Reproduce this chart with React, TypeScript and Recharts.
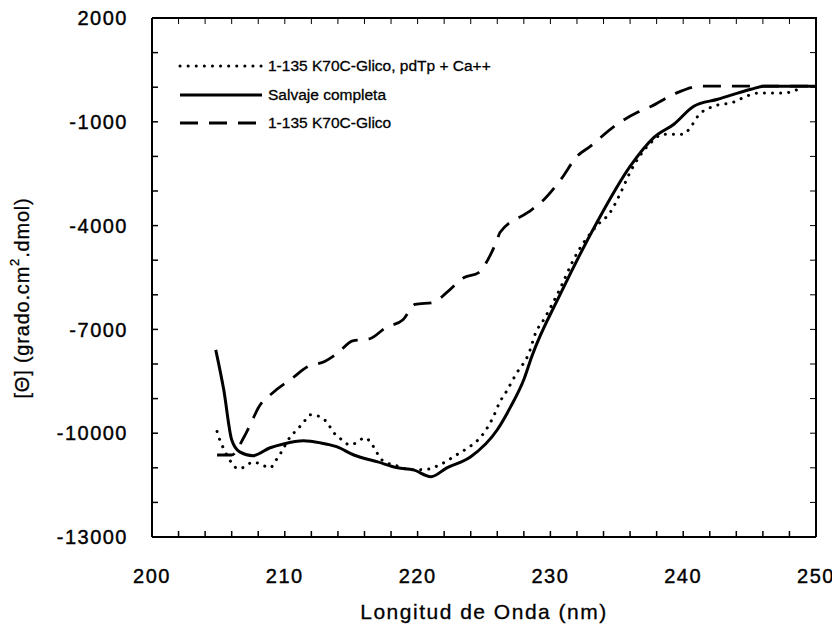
import React from 'react';
import { LineChart, Line, XAxis, YAxis, Legend, CartesianGrid } from 'recharts';

// longitudes de onda (nm) y elipticidad
const wlCa = [204.9, 205.1, 205.4, 206.0, 206.5, 207.0, 207.6, 208.3, 208.9, 209.3, 209.7, 210.4, 211.0, 211.5, 211.9, 212.7, 213.2, 213.7, 214.3, 214.9, 215.5, 216.0, 216.5, 216.9, 217.3, 218.5, 219.5, 221.0, 221.5, 222.1, 222.7, 223.8, 224.4, 225.0, 225.7, 226.2, 226.6, 227.4, 228.4, 228.9, 229.5, 230.5, 232.0, 233.5, 234.5, 235.3, 236.0, 237.6, 238.5, 240.0, 240.6, 241.1, 242.3, 243.8, 244.6, 245.6, 247.6, 248.3, 249.0];
const thetaCa = [-9950, -10190, -10450, -10860, -11030, -10970, -10830, -10920, -11000, -10800, -10570, -10110, -9870, -9640, -9470, -9530, -9700, -9990, -10190, -10340, -10250, -10130, -10280, -10540, -10770, -10950, -11060, -11030, -10940, -10830, -10680, -10420, -10250, -9990, -9530, -9090, -8850, -8300, -7670, -7090, -6720, -6000, -4800, -4000, -3620, -3040, -2460, -1590, -1360, -1360, -1130, -840, -550, -430, -290, -170, -170, -110, 0];

const wlWild = [204.8, 205.4, 206.0, 206.6, 207.6, 208.9, 209.9, 211.4, 212.7, 213.9, 215.2, 217.0, 218.5, 219.7, 221.0, 222.2, 224.0, 226.0, 227.0, 228.0, 228.6, 230.8, 233.5, 236.0, 237.8, 239.3, 240.8, 242.6, 245.1, 246.1, 250.0];
const thetaWild = [-7590, -8740, -10190, -10540, -10650, -10420, -10310, -10220, -10280, -10390, -10630, -10830, -11000, -11060, -11260, -11000, -10680, -9900, -9240, -8450, -7780, -5940, -3910, -2290, -1450, -1070, -550, -350, -60, 30, 30];

const wlGlico = [204.9, 206.0, 206.9, 207.5, 208.0, 209.1, 210.6, 211.7, 213.0, 214.0, 215.1, 216.4, 217.6, 218.9, 219.8, 221.2, 222.2, 223.5, 224.6, 225.3, 226.0, 226.2, 228.3, 229.3, 230.8, 232.0, 233.0, 234.8, 236.6, 237.6, 239.3, 241.3, 244.6, 250.0];
const thetaGlico = [-10630, -10630, -10130, -9670, -9270, -8830, -8400, -8080, -7930, -7680, -7330, -7270, -6950, -6720, -6280, -6220, -5930, -5500, -5360, -4980, -4400, -4200, -3620, -3330, -2660, -2000, -1710, -1130, -720, -550, -200, 30, 30, 30];

const seriesNames = ['1-135 K70C-Glico, pdTp + Ca++', 'Salvaje completa', '1-135 K70C-Glico'];

const xTicks = [200, 202, 204, 206, 208, 210, 212, 214, 216, 218, 220, 222, 224, 226, 228, 230, 232, 234, 236, 238, 240, 242, 244, 246, 248, 250];
const yTicks = [2000, 1000, 0, -1000, -2000, -3000, -4000, -5000, -6000, -7000, -8000, -9000, -10000, -11000, -12000, -13000];

const toPoints = (xs: number[], ys: number[]) => xs.map((x, i) => ({ x, y: ys[i] }));
const dataCa = toPoints(wlCa, thetaCa);
const dataWild = toPoints(wlWild, thetaWild);
const dataGlico = toPoints(wlGlico, thetaGlico);

const W = 832;
const H = 624;
const LEFT_W = 144;
const RIGHT_W = 24;
const PLOT_W = W - LEFT_W - RIGHT_W;

const FONT = '"Liberation Sans", Arial, sans-serif';
const dotted = '0.1 8';
const dashed = '18 11';
const dashes = [dotted, undefined, dashed];

// leyenda propia, en el orden de la figura
const LegendBox = () => (
  <div style={{ fontFamily: FONT, fontSize: 15.5, color: '#000', WebkitTextStroke: '0.3px #000' }}>
    {seriesNames.map((name, i) => (
      <div key={name} style={{ display: 'flex', alignItems: 'center', height: 28.5 }}>
        <svg width={90} height={10}>
          <line x1={2} y1={5} x2={84} y2={5} stroke="#000" strokeWidth={3}
            strokeLinecap={i === 0 ? 'round' : 'butt'} strokeDasharray={dashes[i]} />
        </svg>
        <span>{name}</span>
      </div>
    ))}
  </div>
);

// título del eje Y; también cierra el marco (lados superior y derecho) a partir del viewBox del eje
const YTitle = (props: any) => {
  const vb = props.viewBox || { x: 0, y: 10, width: LEFT_W, height: 518 };
  const left = vb.x + vb.width;
  const right = left + PLOT_W;
  const top = vb.y;
  const bottom = vb.y + vb.height;
  return (
    <g>
      <line x1={left} y1={top} x2={right + 1} y2={top} stroke="#000" strokeWidth={2} />
      <line x1={right} y1={top} x2={right} y2={bottom} stroke="#000" strokeWidth={2} />
      <text x={14} y={290} transform="rotate(-90 14 290)" textAnchor="middle" dominantBaseline="central"
        fontFamily={FONT} fontSize={20} letterSpacing={0.8} fill="#000" stroke="#000" strokeWidth={0.3}>
        <tspan>[Θ] (grado.cm</tspan>
        <tspan fontSize={13} dy={-8}>2</tspan>
        <tspan dy={8}>.dmol)</tspan>
      </text>
    </g>
  );
};

const XTitle = () => (
  <text x={476} y={611} textAnchor="middle" fontFamily={FONT} fontSize={21} fill="#000" letterSpacing={1.5}
    stroke="#000" strokeWidth={0.3}>
    Longitud de Onda (nm)
  </text>
);

const yFmt = (v: number) => ((2000 - v) % 3000 === 0 ? String(v) : '');
const xFmt = (v: number) => (v % 10 === 0 ? String(v) : '');
const blank = () => '';

const tickStyle = { fontFamily: FONT, fontSize: 20, fill: '#000', letterSpacing: 1.5, stroke: '#000', strokeWidth: 0.4 };
const axisLine = { stroke: '#000', strokeWidth: 2 };
const tickLine = { stroke: '#000', strokeWidth: 1.5 };

export default function App() {
  return (
    <LineChart width={W} height={H} margin={{ top: 0, right: 0, bottom: 0, left: 0 }}>
      <CartesianGrid xAxisId="b" yAxisId="l" stroke="#000" strokeWidth={2}
        horizontalCoordinatesGenerator={({ offset }: any) => [offset.top, offset.top + offset.height]}
        verticalCoordinatesGenerator={({ offset }: any) => [offset.left, offset.left + offset.width]} />
      <XAxis xAxisId="b" dataKey="x" type="number" domain={[200, 250]} ticks={xTicks} tickFormatter={xFmt}
        height={95} axisLine={axisLine} tickLine={tickLine} tickSize={-6} tickMargin={38}
        tick={tickStyle} interval={0} label={<XTitle />} />
      <XAxis xAxisId="t" dataKey="x" orientation="top" type="number" domain={[200, 250]} ticks={xTicks} height={10}
        stroke="#000" tickFormatter={blank} tickSize={-6} interval={0} />
      <YAxis yAxisId="l" type="number" domain={[-13000, 2000]} ticks={yTicks} tickFormatter={yFmt} width={LEFT_W}
        axisLine={axisLine} tickLine={tickLine} tickSize={-6} tickMargin={30}
        tick={tickStyle} interval={0} label={<YTitle />} />
      <YAxis yAxisId="r" orientation="right" type="number" domain={[-13000, 2000]} ticks={yTicks} width={RIGHT_W}
        stroke="#000" tickFormatter={blank} tickSize={-6} interval={0} />
      <Legend layout="vertical" verticalAlign="middle" align="center" content={<LegendBox />}
        wrapperStyle={{ position: 'absolute', left: 170, top: 44, width: 400 }} />
      <Line xAxisId="b" yAxisId="l" data={dataCa} dataKey="y" name={seriesNames[0]} type="monotone" stroke="#000"
        strokeWidth={3} strokeDasharray={dotted} strokeLinecap="round" dot={false} isAnimationActive={false} />
      <Line xAxisId="b" yAxisId="l" data={dataWild} dataKey="y" name={seriesNames[1]} type="monotone" stroke="#000"
        strokeWidth={3} dot={false} isAnimationActive={false} />
      <Line xAxisId="b" yAxisId="l" data={dataGlico} dataKey="y" name={seriesNames[2]} type="monotone" stroke="#000"
        strokeWidth={2.8} strokeDasharray={dashed} dot={false} isAnimationActive={false} />
      <Line xAxisId="t" yAxisId="r" data={dataWild} dataKey="y" stroke="transparent" legendType="none" dot={false}
        activeDot={false} isAnimationActive={false} />
    </LineChart>
  );
}
